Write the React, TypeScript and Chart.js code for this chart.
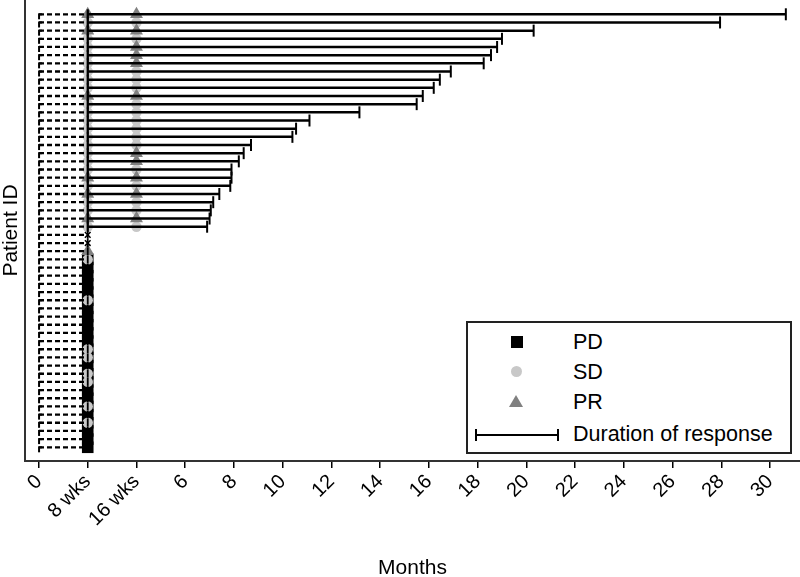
import React, { useEffect, useRef } from 'react';
import { Chart, registerables } from 'chart.js';

Chart.register(...registerables);

const FONT = "'Liberation Sans', Arial, Helvetica, sans-serif";

// Patient rows, top to bottom
const patientRows = [
  1, 2, 3, 4, 5, 6, 7, 8, 9, 10, 11, 12, 13, 14, 15, 16, 17, 18,
  19, 20, 21, 22, 23, 24, 25, 26, 27, 28, 29, 30, 31, 32, 33, 34, 35, 36,
  37, 38, 39, 40, 41, 42, 43, 44, 45, 46, 47, 48, 49, 50, 51, 52, 53, 54,
];

// Assessment time points (months)
const treatmentStartMonth = 0;
const assessment8wks = 2;
const assessment16wks = 4;

// Responders with a duration of response (rows 1..27), end of response in months
const responderRows = [
  1, 2, 3, 4, 5, 6, 7, 8, 9, 10, 11, 12, 13, 14, 15, 16, 17, 18, 19, 20, 21, 22, 23, 24, 25, 26, 27,
];
const responseEndMonths = [
  30.65, 27.95, 20.3, 19.0, 18.8, 18.55, 18.25, 16.9, 16.45, 16.2, 15.75, 15.5, 13.15, 11.1,
  10.55, 10.4, 8.7, 8.4, 8.2, 7.9, 7.9, 7.85, 7.4, 7.15, 7.05, 7.0, 6.9,
];

// Best response markers
const prAt8wksRows = [1, 3, 11, 21, 23, 26, 30];
const sdAt8wksRows = [
  2, 4, 5, 6, 7, 8, 9, 10, 12, 13, 14, 15, 16, 17, 18, 19, 20, 22, 24, 25, 27,
  31, 36, 42, 43, 45, 46, 49, 51,
];
const pdAt8wksRows = [
  31, 32, 33, 34, 35, 36, 37, 38, 39, 40, 41, 42, 43, 44, 45, 46, 47, 48, 49, 50, 51, 52, 53, 54,
];
const prAt16wksRows = [1, 3, 5, 6, 7, 11, 18, 19, 21, 23, 26];
const sdAt16wksRows = [2, 4, 8, 9, 10, 12, 13, 14, 15, 16, 17, 20, 22, 24, 25, 27];
const notEvaluableRows = [28, 29];

// X axis ticks
const xTickValues = [0, 2, 4, 6, 8, 10, 12, 14, 16, 18, 20, 22, 24, 26, 28, 30];
const xTickLabels = ['0', '8 wks', '16 wks', '6', '8', '10', '12', '14', '16', '18', '20', '22', '24', '26', '28', '30'];

const legendLabels = ['PD', 'SD', 'PR', 'Duration of response'];

export default function App() {
  const ref = useRef<HTMLCanvasElement>(null);

  useEffect(() => {
    const canvas = ref.current;
    if (!canvas) return;

    const corner = document.createElement('canvas');
    corner.width = 12;
    corner.height = 12;
    const g = corner.getContext('2d');
    if (g) {
      g.fillStyle = '#000';
      g.fillRect(5, 5, 2, 6);
      g.fillRect(5, 5, 4, 2);
    }

    const gap = { x: null as any, y: null as any };
    const dashedData = patientRows.flatMap((r) => [
      { x: treatmentStartMonth, y: r },
      { x: assessment8wks, y: r },
      gap,
    ]);
    const durationData = responderRows.flatMap((r, i) => [
      { x: assessment8wks, y: r },
      { x: responseEndMonths[i], y: r },
      gap,
    ]);

    const chart = new Chart(canvas, {
      type: 'scatter',
      data: {
        datasets: [
          {
            label: 'dashed',
            data: dashedData,
            showLine: true,
            borderColor: '#000',
            borderWidth: 2.3,
            borderDash: [5, 3],
            pointRadius: 0,
            order: 0,
          } as any,
          {
            label: 'dashStart',
            data: patientRows.map((r) => ({ x: treatmentStartMonth, y: r })),
            pointStyle: corner,
            pointRadius: 6,
            order: 0,
          },
          {
            label: 'dashEnd',
            data: patientRows.map((r) => ({ x: assessment8wks, y: r })),
            pointStyle: 'line',
            pointRotation: 90,
            pointRadius: 4,
            pointBorderColor: '#000',
            pointBorderWidth: 1.8,
            order: 0,
          },
          {
            label: 'duration',
            data: durationData,
            showLine: true,
            borderColor: '#000',
            borderWidth: 2.5,
            pointRadius: 0,
            order: 1,
          } as any,
          {
            label: 'durationStart',
            data: responderRows.map((r) => ({ x: assessment8wks, y: r })),
            pointStyle: 'line',
            pointRotation: 90,
            pointRadius: 5,
            pointBorderColor: '#000',
            pointBorderWidth: 2,
            order: 1,
          },
          {
            label: 'durationEnd',
            data: responderRows.map((r, i) => ({ x: responseEndMonths[i], y: r })),
            pointStyle: 'line',
            pointRotation: 90,
            pointRadius: 6,
            pointBorderColor: '#000',
            pointBorderWidth: 2,
            order: 1,
          },
          {
            label: 'NE',
            data: notEvaluableRows.map((r) => ({ x: assessment8wks, y: r })),
            pointStyle: 'crossRot',
            pointRadius: 4,
            pointBorderColor: '#000',
            pointBorderWidth: 1.5,
            order: 2,
          },
          {
            label: 'PR',
            data: [
              ...prAt8wksRows.map((r) => ({ x: assessment8wks, y: r })),
              ...prAt16wksRows.map((r) => ({ x: assessment16wks, y: r })),
            ],
            pointStyle: 'triangle',
            pointRadius: 7.5,
            pointBackgroundColor: '#808080',
            pointBorderWidth: 0,
            order: 3,
          },
          {
            label: 'SD',
            data: [
              ...sdAt8wksRows.map((r) => ({ x: assessment8wks, y: r })),
              ...sdAt16wksRows.map((r) => ({ x: assessment16wks, y: r })),
            ],
            pointStyle: 'circle',
            pointRadius: 5.2,
            pointBackgroundColor: '#c8c8c8',
            pointBorderWidth: 0,
            order: 4,
          },
          {
            label: 'PD',
            data: pdAt8wksRows.map((r) => ({ x: assessment8wks, y: r })),
            pointStyle: 'rect',
            pointRadius: 8.2,
            pointBackgroundColor: '#000',
            pointBorderWidth: 0,
            order: 5,
          },
        ],
      },
      options: {
        animation: false,
        responsive: false,
        maintainAspectRatio: false,
        layout: { autoPadding: false, padding: { top: 0, left: 0, right: 0, bottom: 0 } },
        plugins: { legend: { display: false }, tooltip: { enabled: false } },
        events: [],
        scales: {
          x: {
            type: 'linear',
            min: -0.5746,
            max: 31.231,
            afterBuildTicks: (axis: any) => {
              axis.ticks = xTickValues.map((v) => ({ value: v }));
            },
            afterFit: (axis: any) => {
              axis.height = 116;
            },
            ticks: {
              autoSkip: false,
              minRotation: 45,
              maxRotation: 45,
              padding: 2,
              color: '#000',
              font: { family: FONT, size: 20 },
              callback: (v: any) => {
                const i = xTickValues.indexOf(Number(v));
                return i >= 0 ? xTickLabels[i] : '';
              },
            },
            grid: {
              display: true,
              drawOnChartArea: false,
              drawTicks: true,
              tickLength: 7,
              color: '#000',
              lineWidth: 1.5,
            },
            border: { display: true, color: '#333', width: 2 },
            title: {
              display: true,
              text: 'Months',
              color: '#000',
              font: { family: FONT, size: 21, lineHeight: 1 },
              padding: { top: 0, bottom: -2 },
            },
          },
          y: {
            type: 'linear',
            reverse: true,
            min: -0.75,
            max: 55.68,
            afterFit: (axis: any) => {
              axis.width = 25;
            },
            ticks: { display: false },
            grid: { display: false },
            border: { display: true, color: '#333', width: 2 },
            title: {
              display: true,
              text: 'Patient ID',
              color: '#000',
              font: { family: FONT, size: 21, lineHeight: 1 },
              padding: { top: 1, bottom: 0 },
            },
          },
        },
      } as any,
    });

    return () => chart.destroy();
  }, []);

  const textStyle = (cy: number): React.CSSProperties => ({
    position: 'absolute',
    left: 573,
    top: cy - 12,
    fontFamily: FONT,
    fontSize: 21.5,
    lineHeight: '24px',
    color: '#000',
    whiteSpace: 'nowrap',
  });

  return (
    <div style={{ position: 'fixed', left: 0, top: 0, width: 800, height: 577, background: '#fff' }}>
      <canvas ref={ref} width={800} height={577} style={{ display: 'block', width: 800, height: 577 }} />
      <div
        style={{
          position: 'absolute',
          left: 466,
          top: 321,
          width: 326,
          height: 133,
          border: '2px solid #222',
          boxSizing: 'border-box',
          background: '#fff',
        }}
      />
      <div style={{ position: 'absolute', left: 511, top: 336, width: 12, height: 12, background: '#000' }} />
      <div
        style={{ position: 'absolute', left: 511, top: 366, width: 11, height: 11, borderRadius: '50%', background: '#c8c8c8' }}
      />
      <div
        style={{
          position: 'absolute',
          left: 509,
          top: 395,
          width: 0,
          height: 0,
          borderLeft: '7.5px solid transparent',
          borderRight: '7.5px solid transparent',
          borderBottom: '12px solid #808080',
        }}
      />
      <div style={{ position: 'absolute', left: 475, top: 433.5, width: 83, height: 2, background: '#000' }} />
      <div style={{ position: 'absolute', left: 474.5, top: 428.5, width: 2, height: 12, background: '#000' }} />
      <div style={{ position: 'absolute', left: 557, top: 428.5, width: 2, height: 12, background: '#000' }} />
      <div style={textStyle(341.5)}>{legendLabels[0]}</div>
      <div style={textStyle(371.5)}>{legendLabels[1]}</div>
      <div style={textStyle(401.5)}>{legendLabels[2]}</div>
      <div style={textStyle(433.5)}>{legendLabels[3]}</div>
    </div>
  );
}
